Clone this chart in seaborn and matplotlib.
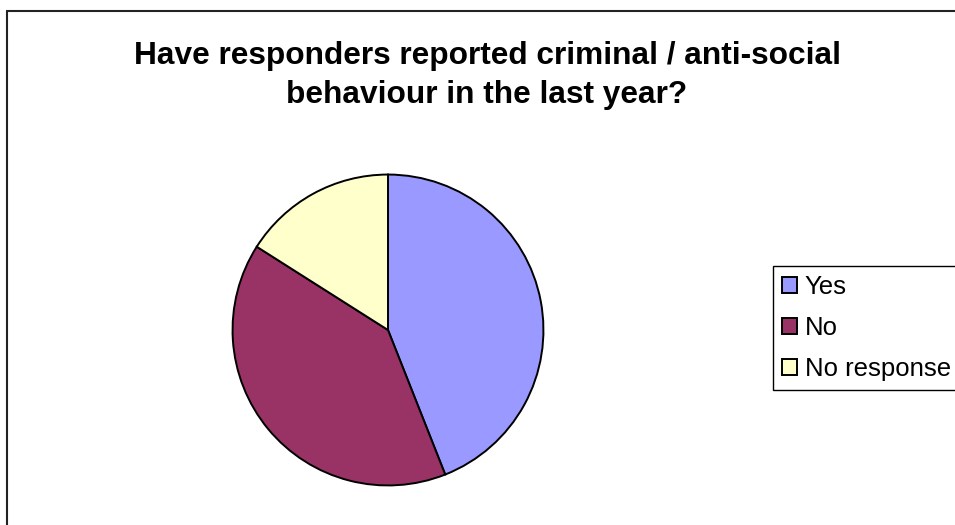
import matplotlib
matplotlib.use("Agg")
import matplotlib.pyplot as plt
from matplotlib.lines import Line2D
import seaborn as sns

# data (percent of responders)
categories = ["Yes", "No", "No response"]
shares = [44, 40, 16]
colours = ["#9999FF", "#993366", "#FFFFCC"]

title = "Have responders reported criminal / anti-social\nbehaviour in the last year?"

sns.set_theme(style="white")
plt.rcParams['font.family'] = ['Liberation Sans', 'DejaVu Sans']

W, H = 955, 525
fig = plt.figure(figsize=(W / 100, H / 100), dpi=100)
fig.patch.set_facecolor("white")

# pie axes: centre (388, 330) px, radius 157 px
cx, cy, r = 388, 330, 157
ax = fig.add_axes([(cx - r) / W, (H - cy - r) / H, 2 * r / W, 2 * r / H])
wedges, _ = ax.pie(shares, colors=sns.color_palette(colours), startangle=90,
                   counterclock=False, radius=1,
                   wedgeprops=dict(edgecolor="black", linewidth=1.4))
ax.set_xlim(-1.01, 1.01)
ax.set_ylim(-1.01, 1.01)
ax.set_aspect("equal")
ax.axis("off")

# va="baseline" pins the last line's baseline
fig.text(487 / W, 1 - 103 / H, title, ha="center", va="baseline",
         fontsize=22.8, fontweight="bold", linespacing=1.39, color="black")

leg = fig.legend(wedges, categories, loc="upper left",
                 bbox_to_anchor=(773 / W, 1 - 266 / H), borderaxespad=0,
                 fontsize=18.5, frameon=True, fancybox=False, shadow=False,
                 handlelength=0.58, handleheight=0.58, handletextpad=0.3,
                 labelspacing=0.67, borderpad=0.35)
leg.get_frame().set_edgecolor("black")
leg.get_frame().set_linewidth(1.0)
leg.get_frame().set_alpha(1)
for t in leg.get_texts():
    t.set_color("black")

# chart-area frame (top and left edges visible in the picture)
fig.add_artist(Line2D([7 / W, 1], [1 - 11 / H, 1 - 11 / H], transform=fig.transFigure,
                      color="#222222", linewidth=1.5))
fig.add_artist(Line2D([7 / W, 7 / W], [0, 1 - 11 / H], transform=fig.transFigure,
                      color="#222222", linewidth=1.5))

plt.savefig("out.png", dpi=100)
plt.close()
